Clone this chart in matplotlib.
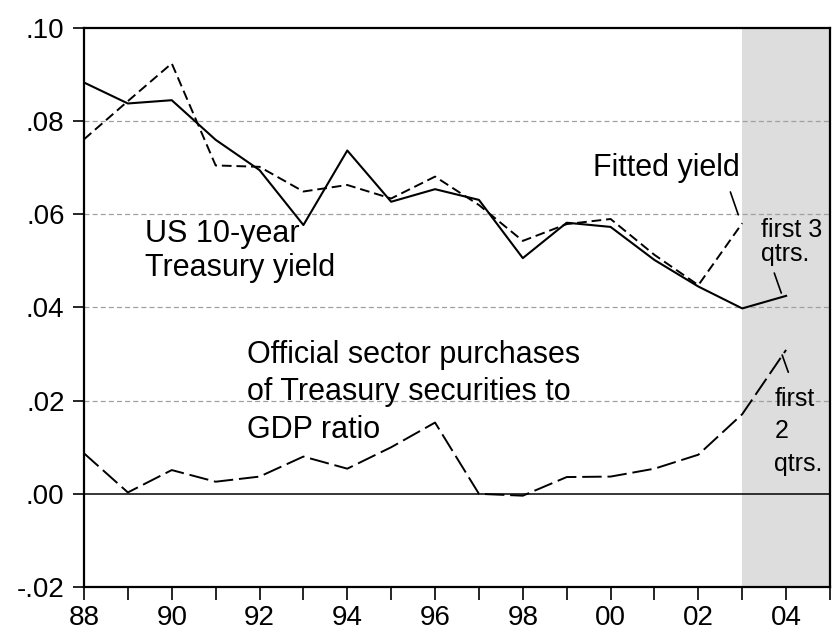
'''
US 10-year Treasury yield, fitted yield and official sector purchases
'''
import matplotlib
matplotlib.use('Agg')
import matplotlib.pyplot as plt
from matplotlib.ticker import FixedLocator, FuncFormatter

plt.rcParams['font.family'] = ['Liberation Sans', 'DejaVu Sans']

# Data
years = list(range(1988, 2005))
actual_yield = [0.0883, 0.0838, 0.0845, 0.0760, 0.0695, 0.0577, 0.0737, 0.0627,
                0.0654, 0.0631, 0.0506, 0.0582, 0.0573, 0.0502, 0.0445, 0.0398, 0.0425]
fitted_years = list(range(1988, 2004))
fitted_yield = [0.0761, 0.0843, 0.0924, 0.0705, 0.0702, 0.0649, 0.0663, 0.0634,
                0.0681, 0.0620, 0.0543, 0.0579, 0.0590, 0.0513, 0.0448, 0.0581]
official_purchases = [0.0087, 0.0003, 0.0051, 0.0026, 0.0037, 0.0080, 0.0054, 0.0100,
                      0.0153, 0.0000, -0.0004, 0.0036, 0.0037, 0.0054, 0.0084, 0.0171, 0.0309]

x_ticks = list(range(1988, 2005, 2))
x_labels = ['88', '90', '92', '94', '96', '98', '00', '02', '04']
y_grid = [0.02, 0.04, 0.06, 0.08]

fig = plt.figure(figsize=(8.34, 6.35), dpi=100)
ax = fig.add_axes([0.1007, 0.0756, 0.8945, 0.8803])

# shaded partial-year region
ax.axvspan(2003, 2005, color='#dddddd', zorder=0, lw=0)

for g in y_grid:
    ax.axhline(g, color='#a0a0a0', lw=0.9, ls=(0, (4, 2.5)), zorder=1)
ax.axhline(0.0, color='black', lw=1.1, zorder=1)

ax.plot(years, actual_yield, color='black', lw=1.5, zorder=3)
ax.plot(fitted_years, fitted_yield, color='black', lw=1.4, ls=(0, (5, 2.5)), zorder=3)
ax.plot(years, official_purchases, color='black', lw=1.4, ls=(0, (10, 3)), zorder=3)

ax.set_xlim(1988, 2005)
ax.set_ylim(-0.02, 0.10)

ax.xaxis.set_major_locator(FixedLocator(x_ticks))
ax.set_xticklabels(x_labels)
ax.xaxis.set_minor_locator(FixedLocator([y for y in range(1989, 2006, 2)]))
ax.tick_params(axis='x', which='both', direction='out', length=9, width=1.2,
               labelsize=20, pad=4)
ax.yaxis.set_major_locator(FixedLocator([-0.02, 0.0, 0.02, 0.04, 0.06, 0.08, 0.10]))
ax.yaxis.set_major_formatter(FuncFormatter(
    lambda v, p: ('-' if v < -1e-9 else '') + ('%.2f' % abs(v))[1:]))
ax.tick_params(axis='y', which='both', direction='out', length=8, width=1.2,
               labelsize=20, pad=6)

for s in ax.spines.values():
    s.set_linewidth(1.6)

fs = 22
ax.text(1989.39, 0.0541, 'US 10-year', fontsize=fs, va='baseline')
ax.text(1989.39, 0.0468, 'Treasury yield', fontsize=fs, va='baseline')
ax.text(1999.6, 0.0682, 'Fitted yield', fontsize=fs, va='baseline')
ax.text(1991.72, 0.0281, 'Official sector purchases', fontsize=fs, va='baseline')
ax.text(1991.72, 0.0201, 'of Treasury securities to', fontsize=fs, va='baseline')
ax.text(1991.72, 0.0120, 'GDP ratio', fontsize=fs, va='baseline')

small = 18
ax.text(2003.43, 0.0551, 'first 3', fontsize=small, va='baseline')
ax.text(2003.43, 0.0500, 'qtrs.', fontsize=small, va='baseline')
ax.text(2003.73, 0.0188, 'first', fontsize=small, va='baseline')
ax.text(2003.73, 0.0119, '2', fontsize=small, va='baseline')
ax.text(2003.73, 0.0050, 'qtrs.', fontsize=small, va='baseline')

# leader lines
leaders = [((2002.73, 0.0648), (2002.91, 0.0599)),
           ((2003.73, 0.0474), (2003.89, 0.0431)),
           ((2003.91, 0.0298), (2004.05, 0.0261))]
for start, end in leaders:
    ax.annotate('', xy=end, xytext=start,
                arrowprops=dict(arrowstyle='-', color='black', lw=1.2,
                                shrinkA=0, shrinkB=0))

fig.savefig('out.png', dpi=100)
